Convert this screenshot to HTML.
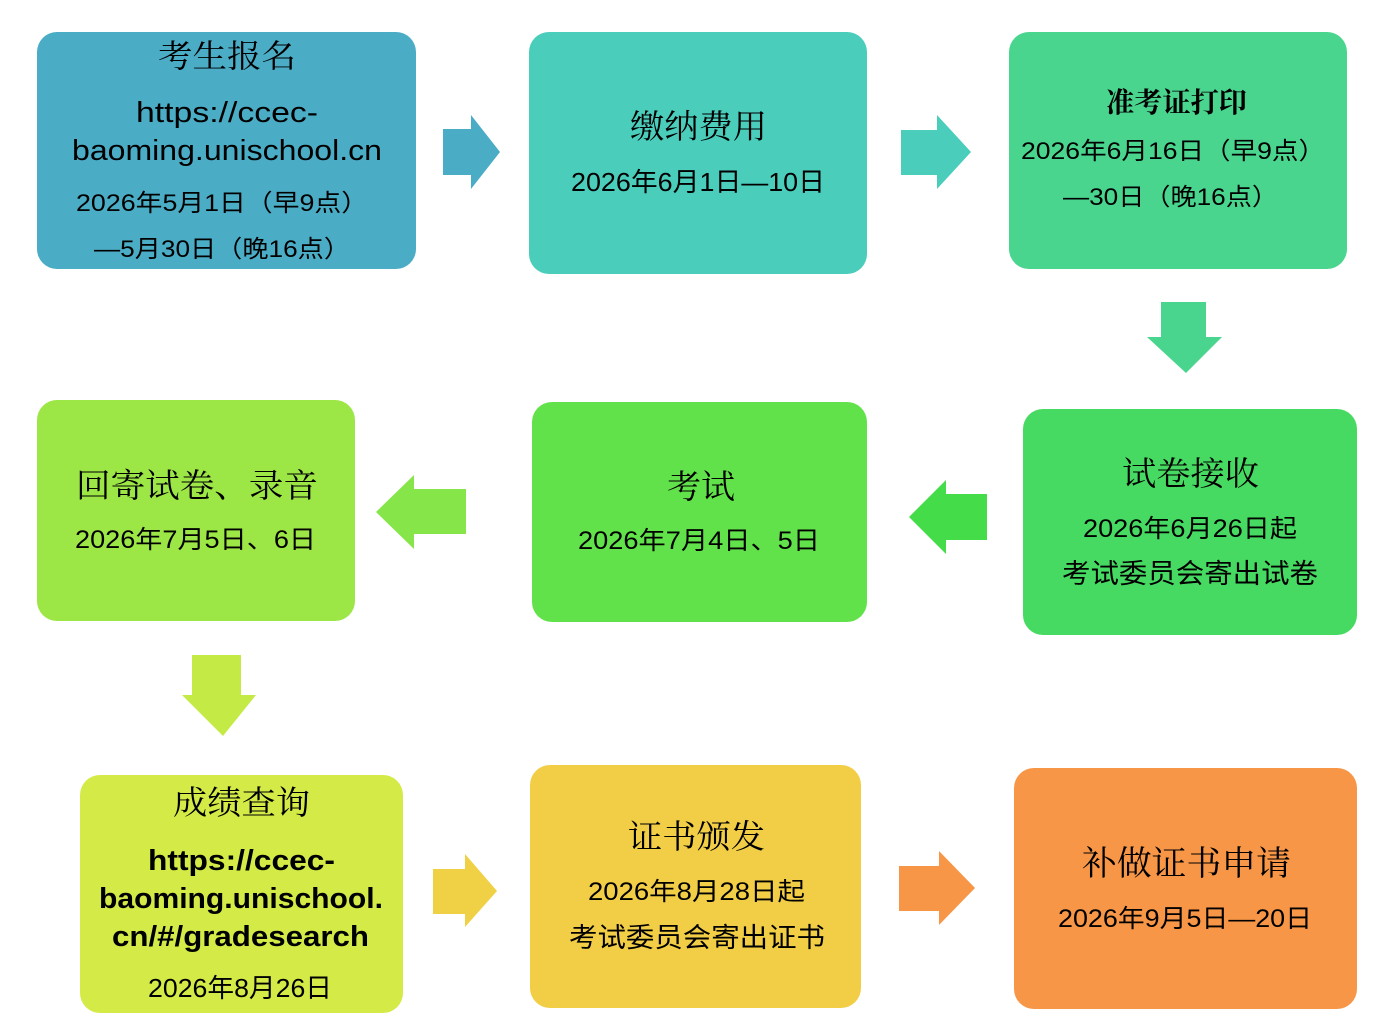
<!DOCTYPE html>
<html>
<head>
<meta charset="utf-8">
<style>
html,body{margin:0;padding:0;background:#fff;}
svg{display:block;}
.t{font-family:"Noto Serif CJK SC","Liberation Serif",serif;fill:#000;}
.d{font-family:"Liberation Sans","Noto Sans CJK SC",sans-serif;fill:#000;}
.u{font-family:"Liberation Sans","Noto Sans CJK SC",sans-serif;fill:#000;}
.ub{font-family:"Liberation Sans","Noto Sans CJK SC",sans-serif;fill:#000;font-weight:bold;}
</style>
</head>
<body>
<svg width="1386" height="1030" viewBox="0 0 1386 1030" xmlns="http://www.w3.org/2000/svg">
  <!-- Row 1 boxes -->
  <rect x="37" y="32" width="379" height="237" rx="20" fill="#4BACC6"/>
  <rect x="529" y="32" width="338" height="242" rx="20" fill="#4BCDBC"/>
  <rect x="1009" y="32" width="338" height="237" rx="20" fill="#4AD58F"/>

  <!-- Row 2 boxes -->
  <rect x="37" y="400" width="318" height="221" rx="20" fill="#9CE646"/>
  <rect x="532" y="402" width="335" height="220" rx="20" fill="#62E24A"/>
  <rect x="1023" y="409" width="334" height="226" rx="20" fill="#47DA62"/>

  <!-- Row 3 boxes -->
  <rect x="80" y="775" width="323" height="238" rx="20" fill="#D4EB47"/>
  <rect x="530" y="765" width="331" height="243" rx="20" fill="#F2CE47"/>
  <rect x="1014" y="768" width="343" height="241" rx="20" fill="#F79646"/>

  <!-- Arrows -->
  <polygon points="443,129 471,129 471,115 500,152 471,189 471,175 443,175" fill="#4BACC6"/>
  <polygon points="901,130 937,130 937,115 971,152 937,189 937,175 901,175" fill="#4BCDBC"/>
  <polygon points="1161,302 1206,302 1206,337 1222,337 1186,373 1147,337 1161,337" fill="#4AD58F"/>
  <polygon points="987,494 946,494 946,480 909,517 946,554 946,540 987,540" fill="#45DC4A"/>
  <polygon points="466,489 414,489 414,475 376,512 414,549 414,534 466,534" fill="#86E649"/>
  <polygon points="192,655 241,655 241,695 256,695 223,736 182,695 192,695" fill="#C4EB45"/>
  <polygon points="433,869 465,869 465,854 497,891 465,927 465,914 433,914" fill="#F0D146"/>
  <polygon points="899,866 939,866 939,851 975,888 939,925 939,911 899,911" fill="#F69646"/>

  <!-- Box 1 text -->
  <text class="t" x="158" y="67" font-size="32" textLength="138" lengthAdjust="spacingAndGlyphs">考生报名</text>
  <text class="u" x="136" y="122" font-size="29" textLength="182" lengthAdjust="spacingAndGlyphs">https://ccec-</text>
  <text class="u" x="72" y="160" font-size="29" textLength="310" lengthAdjust="spacingAndGlyphs">baoming.unischool.cn</text>
  <text class="d" x="76" y="211" font-size="24" textLength="292" lengthAdjust="spacingAndGlyphs">2026年5月1日（早9点）</text>
  <text class="d" x="94" y="257" font-size="24" textLength="256" lengthAdjust="spacingAndGlyphs">—5月30日（晚16点）</text>

  <!-- Box 2 text -->
  <text class="t" x="630" y="138" font-size="33" textLength="137" lengthAdjust="spacingAndGlyphs">缴纳费用</text>
  <text class="d" x="571" y="191" font-size="26" textLength="254" lengthAdjust="spacingAndGlyphs">2026年6月1日—10日</text>

  <!-- Box 3 text -->
  <text class="t" x="1106" y="112" font-size="28" font-weight="bold" textLength="141" lengthAdjust="spacingAndGlyphs">准考证打印</text>
  <text class="d" x="1021" y="159" font-size="24" textLength="304" lengthAdjust="spacingAndGlyphs">2026年6月16日（早9点）</text>
  <text class="d" x="1063" y="205" font-size="24" textLength="215" lengthAdjust="spacingAndGlyphs">—30日（晚16点）</text>

  <!-- Box 6 text -->
  <text class="t" x="76" y="497" font-size="33" textLength="242" lengthAdjust="spacingAndGlyphs">回寄试卷、录音</text>
  <text class="d" x="75" y="548" font-size="25" textLength="241" lengthAdjust="spacingAndGlyphs">2026年7月5日、6日</text>

  <!-- Box 5 text -->
  <text class="t" x="667" y="498" font-size="33" textLength="68" lengthAdjust="spacingAndGlyphs">考试</text>
  <text class="d" x="578" y="549" font-size="25" textLength="242" lengthAdjust="spacingAndGlyphs">2026年7月4日、5日</text>

  <!-- Box 4 text -->
  <text class="t" x="1122" y="485" font-size="33" textLength="137" lengthAdjust="spacingAndGlyphs">试卷接收</text>
  <text class="d" x="1083" y="537" font-size="25" textLength="214" lengthAdjust="spacingAndGlyphs">2026年6月26日起</text>
  <text class="d" x="1062" y="583" font-size="27" textLength="256" lengthAdjust="spacingAndGlyphs">考试委员会寄出试卷</text>

  <!-- Box 7 text -->
  <text class="t" x="173" y="814" font-size="33" textLength="137" lengthAdjust="spacingAndGlyphs">成绩查询</text>
  <text class="ub" x="148" y="870" font-size="29" textLength="187" lengthAdjust="spacingAndGlyphs">https://ccec-</text>
  <text class="ub" x="99" y="908" font-size="29" textLength="284" lengthAdjust="spacingAndGlyphs">baoming.unischool.</text>
  <text class="ub" x="112" y="946" font-size="29" textLength="257" lengthAdjust="spacingAndGlyphs">cn/#/gradesearch</text>
  <text class="d" x="148" y="997" font-size="26" textLength="184" lengthAdjust="spacingAndGlyphs">2026年8月26日</text>

  <!-- Box 8 text -->
  <text class="t" x="628" y="848" font-size="33" textLength="137" lengthAdjust="spacingAndGlyphs">证书颁发</text>
  <text class="d" x="588" y="900" font-size="25" textLength="217" lengthAdjust="spacingAndGlyphs">2026年8月28日起</text>
  <text class="d" x="569" y="947" font-size="27" textLength="256" lengthAdjust="spacingAndGlyphs">考试委员会寄出证书</text>

  <!-- Box 9 text -->
  <text class="t" x="1082" y="875" font-size="34" textLength="209" lengthAdjust="spacingAndGlyphs">补做证书申请</text>
  <text class="d" x="1058" y="927" font-size="25" textLength="254" lengthAdjust="spacingAndGlyphs">2026年9月5日—20日</text>
</svg>
</body>
</html>
